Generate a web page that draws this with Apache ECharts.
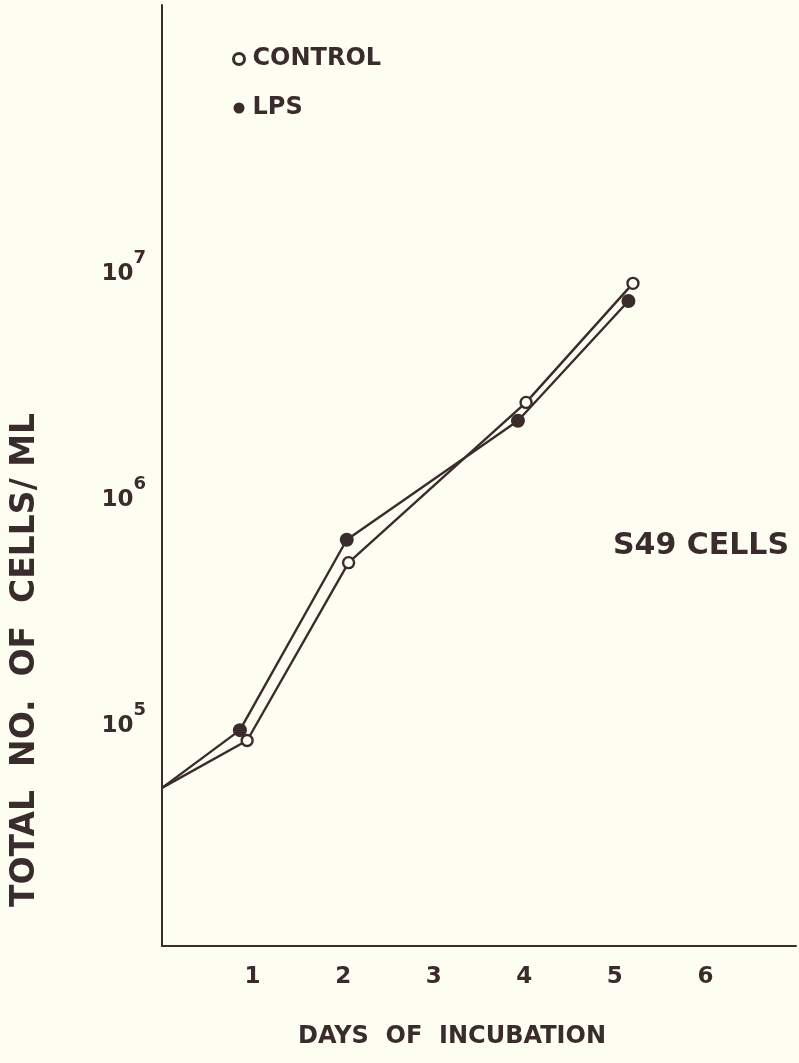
<!DOCTYPE html>
<html>
<head>
<meta charset="utf-8">
<script src="https://cdn.jsdelivr.net/npm/echarts@6/dist/echarts.min.js"></script>
<style>
html,body{margin:0;padding:0;background:#fdfdf2;}
#chart{width:799px;height:1063px;}
</style>
</head>
<body>
<div id="chart"></div>
<script>
// Data (days of incubation, cells/ml)
const controlDays = [0, 0.94, 2.06, 4.02, 5.2];
const controlCells = [5.0e4, 8.1e4, 4.95e5, 2.53e6, 8.5e6];
const lpsDays = [0, 0.86, 2.04, 3.93, 5.15];
const lpsCells = [5.0e4, 9.0e4, 6.25e5, 2.1e6, 7.1e6];
const xTickLabels = ['1', '2', '3', '4', '5', '6'];
const yTickExponents = [5, 6, 7];

const ink = '#3a2c2c';
const bg = '#fdfdf2';
const fontFam = '"DejaVu Sans", sans-serif';

function pts(xs, ys) {
  return xs.map((x, i) => i === 0 ? {value: [x, ys[i]], symbol: 'none'} : [x, ys[i]]);
}

const chart = echarts.init(document.getElementById('chart'));
chart.setOption({
  backgroundColor: bg,
  animation: false,
  grid: {left: 162, right: 1, top: 5, bottom: 117},
  xAxis: {
    type: 'value', min: 0, max: 7, interval: 1,
    axisLine: {show: true, lineStyle: {color: ink, width: 2}},
    axisTick: {show: false},
    splitLine: {show: false},
    axisLabel: {
      margin: 20, color: ink, fontSize: 23, fontWeight: 'bold', fontFamily: fontFam,
      formatter: v => (v >= 1 && v <= xTickLabels.length) ? xTickLabels[v - 1] : ''
    }
  },
  yAxis: {
    type: 'log', logBase: 10, min: 1e4, max: 1.445e8,
    axisLine: {show: true, lineStyle: {color: ink, width: 2}},
    axisTick: {show: false},
    splitLine: {show: false},
    axisLabel: {
      margin: 16, color: ink, fontFamily: fontFam,
      formatter: v => {
        const e = Math.round(Math.log10(v));
        return yTickExponents.includes(e) ? '{b|10}{s|' + e + '}' : '';
      },
      rich: {
        b: {fontSize: 23, fontWeight: 'bold', color: ink, fontFamily: fontFam, verticalAlign: 'bottom'},
        s: {fontSize: 18, fontWeight: 'bold', color: ink, fontFamily: fontFam, verticalAlign: 'top', padding: [0, 0, 18, 0]}
      }
    }
  },
  legend: {
    orient: 'vertical', left: 227, top: 42, itemGap: 25,
    itemWidth: 11, itemHeight: 11,
    textStyle: {color: ink, fontSize: 24, fontWeight: 'bold', fontFamily: fontFam, padding: [0, 0, 0, 3]},
    data: [
      {name: 'CONTROL', icon: 'circle', itemStyle: {color: bg, borderColor: ink, borderWidth: 3}},
      {name: 'LPS', icon: 'circle', itemStyle: {color: ink, borderWidth: 0}}
    ]
  },
  graphic: [
    {
      type: 'text', x: 701, y: 546,
      style: {text: 'S49 CELLS', fill: ink, fontSize: 30, fontWeight: 'bold', fontFamily: fontFam, align: 'center', verticalAlign: 'middle'}
    },
    {
      type: 'text', x: 452, y: 1037,
      style: {text: 'DAYS  OF  INCUBATION', fill: ink, fontSize: 24, fontWeight: 'bold', fontFamily: fontFam, align: 'center', verticalAlign: 'middle'}
    },
    {
      type: 'text', x: 25, y: 660, rotation: Math.PI / 2,
      style: {text: 'TOTAL  NO.  OF  CELLS/ ML', fill: ink, fontSize: 33, fontWeight: 'bold', fontFamily: fontFam, align: 'center', verticalAlign: 'middle'}
    }
  ],
  series: [
    {
      name: 'CONTROL', type: 'line', data: pts(controlDays, controlCells),
      symbol: 'circle', symbolSize: 11,
      lineStyle: {color: ink, width: 2.4},
      itemStyle: {color: bg, borderColor: ink, borderWidth: 2.4},
      z: 3
    },
    {
      name: 'LPS', type: 'line', data: pts(lpsDays, lpsCells),
      symbol: 'circle', symbolSize: 14,
      lineStyle: {color: ink, width: 2.4},
      itemStyle: {color: ink, borderWidth: 0},
      z: 2
    }
  ]
});
</script>
</body>
</html>
